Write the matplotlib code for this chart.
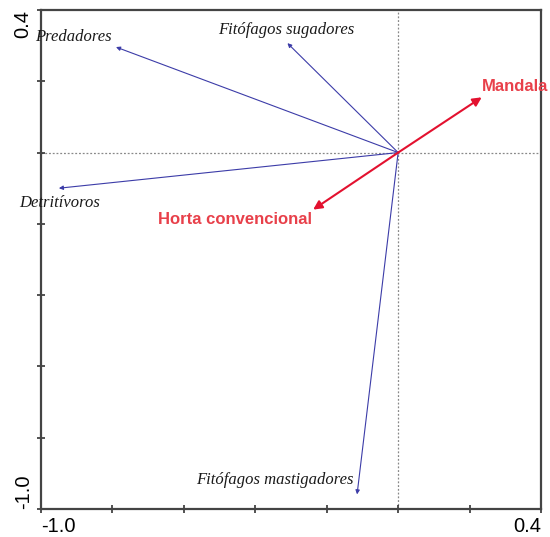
import matplotlib
matplotlib.use("Agg")
import matplotlib.pyplot as plt

# Species-group vectors (blue)
groups = ["Predadores", "Fitófagos sugadores", "Detritívoros", "Fitófagos mastigadores"]
group_x = [-0.79, -0.31, -0.95, -0.115]
group_y = [0.296, 0.307, -0.10, -0.959]

# Treatment vectors (red)
treatments = ["Mandala", "Horta convencional"]
treat_x = [0.234, -0.238]
treat_y = [0.155, -0.16]

# Label positions
group_lab_x = [-0.908, -0.314, -0.947, -0.345]
group_lab_y = [0.324, 0.344, -0.141, -0.919]
treat_lab_x = [0.328, -0.457]
treat_lab_y = [0.184, -0.188]

ticks = [-1.0, -0.8, -0.6, -0.4, -0.2, 0.0, 0.2, 0.4]
tick_labels = ["-1.0", "", "", "", "", "", "", "0.4"]

fig = plt.figure(figsize=(5.5, 5.37), dpi=100)
ax = fig.add_axes([41/550, 1 - 509/537, 500/550, 499/537])
ax.set_xlim(-1.0, 0.4)
ax.set_ylim(-1.0, 0.4)

ax.axhline(0, color="#888888", lw=0.9, ls=(0, (1.5, 1.5)), zorder=1)
ax.axvline(0, color="#888888", lw=0.9, ls=(0, (1.5, 1.5)), zorder=1)

blue = "#3c3ca8"
for name, x, y, lx, ly in zip(groups, group_x, group_y, group_lab_x, group_lab_y):
    ax.annotate("", xy=(x, y), xytext=(0, 0),
                arrowprops=dict(arrowstyle="-|>", color=blue, lw=0.8,
                                mutation_scale=6, shrinkA=0, shrinkB=0))
    ax.text(lx, ly, name, family="Liberation Serif", style="italic",
            fontsize=12, color="#1a1a1a", ha="center", va="center")

red = "#e3112f"
for name, x, y, lx, ly in zip(treatments, treat_x, treat_y, treat_lab_x, treat_lab_y):
    ax.annotate("", xy=(x, y), xytext=(0, 0),
                arrowprops=dict(arrowstyle="-|>", color=red, lw=1.5,
                                mutation_scale=13, shrinkA=0, shrinkB=0))
    ax.text(lx, ly, name, family="Liberation Sans", fontweight="bold",
            fontsize=12, color="#e8404a", ha="center", va="center", clip_on=False)

ax.set_xticks(ticks)
ax.set_xticklabels(tick_labels, family="Liberation Sans", fontsize=14.5)
ax.set_yticks(ticks)
ax.set_yticklabels(tick_labels, family="Liberation Sans", fontsize=14.5, rotation=90)
ax.tick_params(direction="inout", length=6, width=1.2, color="#333333", pad=3)

xl = ax.get_xticklabels()
xl[0].set_ha("left")
xl[-1].set_ha("right")
yl = ax.get_yticklabels()
yl[0].set_va("bottom")
yl[-1].set_va("top")

for s in ax.spines.values():
    s.set_color("#444444")
    s.set_linewidth(1.6)

fig.savefig("out.png", dpi=100)
